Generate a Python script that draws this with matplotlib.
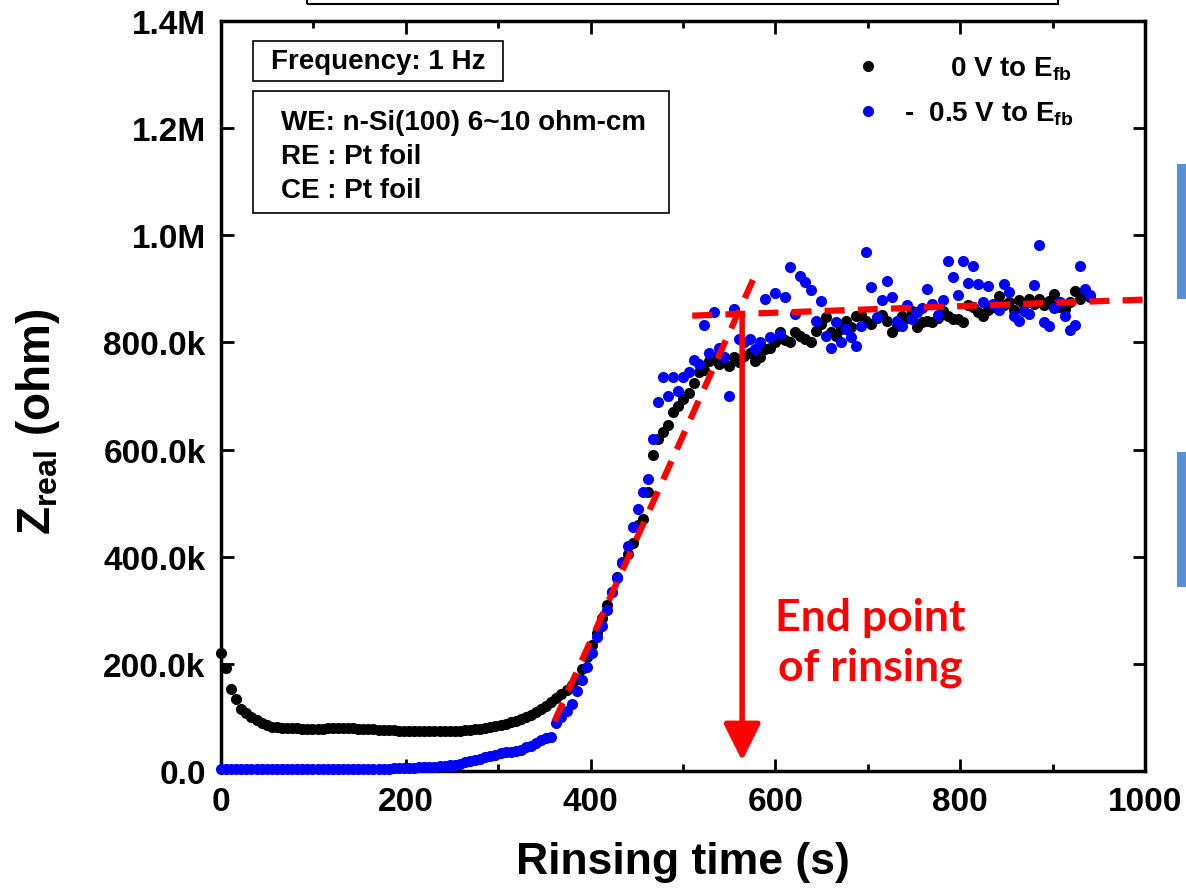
import numpy as np
import matplotlib
matplotlib.use("Agg")
import matplotlib.pyplot as plt
from matplotlib.patches import Rectangle
from matplotlib.ticker import MultipleLocator

plt.rcParams['font.family'] = ['Liberation Sans', 'DejaVu Sans']
plt.rcParams['font.weight'] = 'bold'
plt.rcParams['mathtext.fontset'] = 'custom'
plt.rcParams['mathtext.rm'] = 'Liberation Sans:bold'
plt.rcParams['mathtext.bf'] = 'Liberation Sans:bold'
plt.rcParams['mathtext.it'] = 'Liberation Sans:bold'

# sampling times (s), one point every 5.5 s
time_s = np.arange(0, 941, 5.5)

# Z_real in kOhm, 0 V to E_fb
z_0v = [
    220, 192, 153, 134, 116, 108, 100, 95, 90, 86,
    83, 82, 81, 80, 80, 80, 79, 79, 79, 79,
    79, 80, 80, 80, 81, 80, 80, 79, 79, 78,
    78, 77, 77, 76, 76, 75, 75, 75, 74, 74,
    74, 74, 74, 74, 74, 74, 75, 75, 76, 77,
    78, 79, 80, 82, 84, 86, 88, 91, 94, 97,
    101, 105, 110, 116, 122, 128, 136, 144, 152, 160,
    172, 190, 212, 235, 258, 285, 310, 335, 362, 388,
    405, 425, 460, 470, 520, 590, 620, 632, 645, 670,
    682, 695, 705, 725, 745, 748, 765, 772, 760, 772,
    756, 772, 763, 775, 780, 765, 772, 787, 790, 800,
    819, 805, 800, 819, 812, 806, 800, 822, 835, 847,
    819, 812, 825, 840, 828, 850, 851, 840, 834, 845,
    852, 840, 819, 830, 849, 845, 858, 828, 838, 840,
    838, 845, 858, 850, 843, 843, 838, 870, 866, 856,
    849, 860, 866, 886, 870, 875, 860, 879, 870, 881,
    872, 881, 870, 877, 890, 866, 862, 875, 896, 881,
    888, 884,
]

# Z_real in kOhm, -0.5 V to E_fb
z_05v = [
    3, 3, 3, 3, 3, 3, 3, 3, 3, 3,
    3, 3, 3, 3, 3, 3, 3, 3, 3, 3,
    3, 3, 3, 3, 3, 3, 3, 3, 3, 3,
    3, 4, 4, 4, 5, 5, 5, 6, 6, 7,
    7, 8, 8, 9, 10, 11, 12, 14, 16, 18,
    20, 23, 26, 28, 30, 33, 35, 36, 38, 40,
    44, 47, 52, 58, 62, 63, 90, 100, 112, 125,
    150, 170, 195, 220, 250, 270, 300, 335, 360, 390,
    420, 455, 490, 520, 545, 620, 689, 735, 700, 735,
    709, 735, 745, 768, 759, 832, 780, 856, 790, 772,
    700, 862, 806, 800, 806, 787, 800, 881, 810, 892,
    815, 884, 940, 854, 924, 913, 898, 840, 877, 812,
    789, 838, 800, 825, 810, 793, 830, 968, 903, 847,
    880, 914, 884, 840, 830, 870, 843, 856, 865, 899,
    871, 851, 879, 952, 922, 888, 952, 911, 942, 909,
    875, 905, 871, 860, 909, 895, 849, 840, 858, 853,
    907, 982, 838, 830, 864, 875, 850, 823, 832, 942,
    899, 888,
]

# linear fits (s, kOhm) and end point of rinsing
fit_rise_t = [361, 580]
fit_rise_z = [93, 933]
fit_flat_t = [510, 1000]
fit_flat_z = [850, 880]
end_t = 564
end_top_z = 853
end_tip_z = 19

y_ticks = [0, 200e3, 400e3, 600e3, 800e3, 1.0e6, 1.2e6, 1.4e6]
y_labels = ['0.0', '200.0k', '400.0k', '600.0k', '800.0k', '1.0M', '1.2M', '1.4M']

W, H = 1186, 895
fig = plt.figure(figsize=(W / 100, H / 100), dpi=100)
ax = fig.add_axes([221 / W, 1 - 772 / H, (1145 - 221) / W, (772 - 22) / H])

k = 1e3
ax.plot(time_s, np.array(z_0v) * k, 'o', color='black', ms=8, mec='none',
        clip_on=False, label='      0 V to $\\mathbf{E_{fb}}$', zorder=3)
ax.plot(time_s, np.array(z_05v) * k, 'o', color='#0000ff', ms=8, mec='none',
        clip_on=False, label='-  0.5 V to $\\mathbf{E_{fb}}$', zorder=3)

ax.plot(fit_rise_t, np.array(fit_rise_z) * k, color='#ff0000', lw=4.5,
        dashes=(3.2, 2.1), dash_capstyle='butt', zorder=4)
ax.plot(fit_flat_t, np.array(fit_flat_z) * k, color='#ff0000', lw=4.5,
        dashes=(3.2, 2.1), dash_capstyle='butt', zorder=4)

ax.annotate('', xy=(end_t, end_tip_z * k), xytext=(end_t, end_top_z * k),
            arrowprops=dict(arrowstyle='-|>,head_length=1.5,head_width=0.75',
                            color='#ff0000', lw=4, mutation_scale=15,
                            shrinkA=0, shrinkB=0), zorder=5)
fig.text(870 / W, 1 - 643 / H, 'End point\nof rinsing', color='#ff0000', fontsize=32,
         family=['Lato', 'DejaVu Sans'], fontweight='bold', ha='center',
         va='center', linespacing=1.3)

ax.set_xlim(0, 1000)
ax.set_ylim(0, 1.4e6)
ax.xaxis.set_major_locator(MultipleLocator(200))
ax.xaxis.set_minor_locator(MultipleLocator(100))
ax.set_yticks(y_ticks)
ax.set_yticklabels(y_labels)
ax.tick_params(which='both', direction='in', top=True, right=True, width=2)
ax.tick_params(which='major', length=9, labelsize=24, pad=11)
ax.tick_params(which='minor', length=5)
for s in ax.spines.values():
    s.set_linewidth(2.5)

ax.set_xlabel('Rinsing time (s)', fontsize=32, fontweight='bold', labelpad=17)
ax.set_ylabel('$\\mathbf{Z_{real}}$ (ohm)', fontsize=33, fontweight='bold')
ax.yaxis.set_label_coords(-0.172, 0.467)

leg = ax.legend(loc='upper left', bbox_to_anchor=(0.685, 0.955), frameon=False,
                fontsize=20, handlelength=1.0, handletextpad=0.8,
                borderpad=0, borderaxespad=0, labelspacing=0.62,
                markerscale=1.0)

# info boxes
def px_rect(x0, y0, x1, y1, **kw):
    r = Rectangle((x0 / W, 1 - y1 / H), (x1 - x0) / W, (y1 - y0) / H,
                  transform=fig.transFigure, fill=False, **kw)
    fig.patches.append(r)

px_rect(253, 42, 503, 82, ec='black', lw=1.2)
px_rect(253, 92, 669, 214, ec='black', lw=1.2)
fig.text(378 / W, 1 - 62 / H, 'Frequency: 1 Hz', fontsize=20,
         fontweight='bold', ha='center', va='center')
fig.text(281 / W, 1 - 157 / H, 'WE: n-Si(100) 6~10 ohm-cm\nRE : Pt foil\nCE : Pt foil',
         fontsize=20, fontweight='bold', ha='left', va='center', linespacing=1.4)

# slide remnants around the chart
px_rect(307, -20, 1058, 5, ec='black', lw=1.5)
for y0, y1 in [(165, 300), (453, 588)]:
    fig.patches.append(Rectangle((1177 / W, 1 - y1 / H), 12 / W, (y1 - y0) / H,
                                 transform=fig.transFigure, color='#5b8fd4', lw=0))

fig.savefig('out.png', dpi=100)
